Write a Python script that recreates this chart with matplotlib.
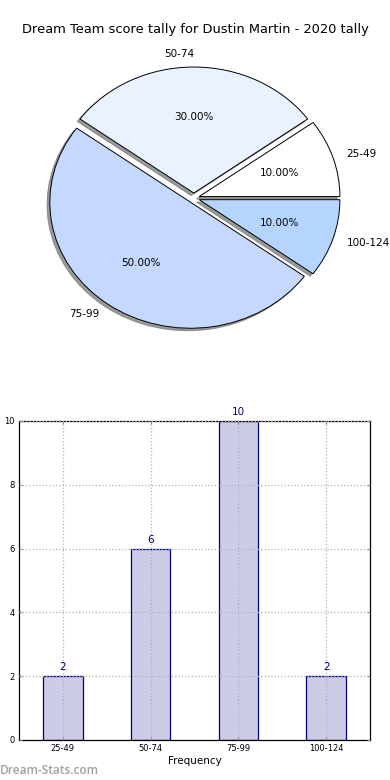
import matplotlib
matplotlib.use('Agg')
import matplotlib.pyplot as plt
import numpy as np

# Datos del jugador
categorias = ['25-49', '50-74', '75-99', '100-124']
frecuencia = [2, 6, 10, 2]
colores_pie = ['#ffffff', '#eaf1ff', '#c5d8ff', '#b5d5ff']
titulo = 'Dream Team score tally for Dustin Martin - 2020 tally'

fig = plt.figure(figsize=(3.9, 7.8), dpi=100)

# Gráfico de torta
ax1 = fig.add_axes([0.046, 0.544, 0.902, 0.404])
wedges, texts, autotexts = ax1.pie(frecuencia, labels=categorias, colors=colores_pie,
                                   explode=[0.04] * len(frecuencia),
                                   shadow={'ox': -0.014, 'oy': -0.014, 'color': '#707070', 'alpha': 0.7},
                                   autopct='%.2f%%', labeldistance=1.1,
                                   wedgeprops={'edgecolor': 'black', 'linewidth': 0.7})
for t in texts + autotexts:
    t.set_fontsize(7.5)
ax1.set_aspect('auto')
ax1.set_xlim(-1.25, 1.25)
ax1.set_ylim(-1.25, 1.25)
fig.text(0.5, 1 - 30 / 780, titulo, ha='center', va='center', fontsize=9.4)

# Gráfico de barras
ax2 = fig.add_axes([0.0487, 0.0513, 0.9, 0.409])
x = np.arange(len(categorias))
ax2.bar(x, frecuencia, width=0.45, color='#ccccE6', edgecolor='#000080', linewidth=0.9, zorder=1)
for xi, v in zip(x, frecuencia):
    ax2.text(xi, v + 0.12, str(v), ha='center', va='bottom', color='#000080', fontsize=7.5)
ax2.set_xlim(-0.5, 3.5)
ax2.set_ylim(0, 10)
ax2.set_xticks(x)
ax2.set_xticklabels(categorias)
ax2.set_yticks(np.arange(0, 11, 2))
ax2.tick_params(labelsize=6, direction='in', length=2, color='#888888', top=True, right=True, pad=3)
ax2.grid(True, linestyle=':', color='#b0b0b0', linewidth=0.9, zorder=3)
ax2.set_axisbelow(False)
ax2.set_xlabel('Frequency', fontsize=7.5, labelpad=2)
ax2.set_ylabel('Dream Team Tally', fontsize=7, labelpad=4)
for s in ax2.spines.values():
    s.set_linewidth(0.9)

fig.text(0.0, 1 - 770 / 780, 'Dream-Stats.com', ha='left', va='center', fontsize=8.6,
         color='#a0a0a0', family=['Open Sans', 'DejaVu Sans'], fontweight='semibold')

fig.savefig('out.png', dpi=100)
